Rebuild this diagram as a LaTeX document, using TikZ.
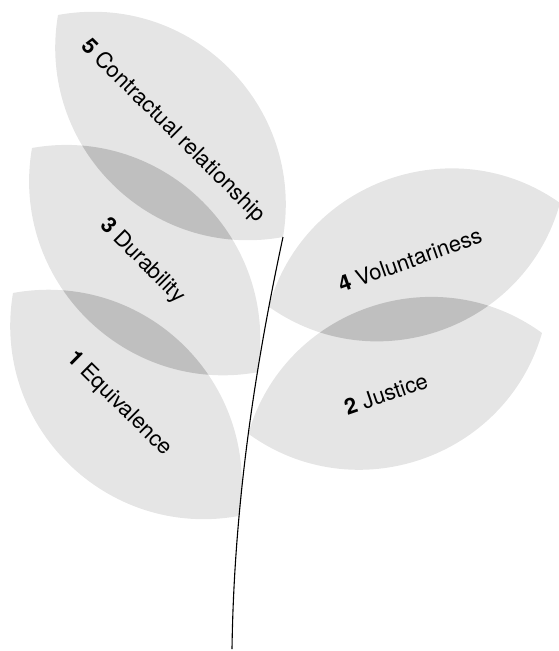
\documentclass[tikz,border=0pt]{standalone}
\usepackage{fontspec}
\setmainfont{TeX Gyre Heros}

\tikzset{
  leaffill/.style={fill=black!10},
  leafoverlap/.style={fill=black!25},
  stemline/.style={black, line width=1.1pt},
  leaftext/.style={font=\fontsize{22}{24}\selectfont, inner sep=0pt},
}
% a leaf is a lens between two tips
\newcommand{\leafshape}[2]{(#1) to[bend left=55, looseness=1.08] (#2) to[bend left=55, looseness=1.08] (#1) -- cycle}

\begin{document}
\begin{tikzpicture}[x=1pt, y=-1pt]
  \useasboundingbox (0,0) rectangle (559,651);
  % Stem points where the leaves sit
  \path (283,237) coordinate (stemtop) .. controls (253.6,374) and (234,509) .. (232,649) coordinate (stembot)
    coordinate[pos=0.17] (l4a) coordinate[pos=0.33] (l3b) coordinate[pos=0.48] (l2a) coordinate[pos=0.68] (l1b);
  % Outer leaf tips
  \coordinate (l5a) at (58,15);
  \coordinate (l3a) at (32,148);
  \coordinate (l1a) at (13,293);
  \coordinate (l4b) at (560,203);
  \coordinate (l2b) at (542,333);
  % Leaves
  \foreach \a/\b in {l5a/stemtop, l3a/l3b, l1a/l1b, l4a/l4b, l2a/l2b}
    \fill[leaffill] \leafshape{\a}{\b};
  % Darker where two leaves overlap
  \foreach \ua/\ub/\va/\vb in {l5a/stemtop/l3a/l3b, l3a/l3b/l1a/l1b, l4a/l4b/l2a/l2b} {
    \begin{scope}
      \clip \leafshape{\ua}{\ub};
      \fill[leafoverlap] \leafshape{\va}{\vb};
    \end{scope}
  }
  % Stem
  \draw[stemline] (stemtop) .. controls (253.6,374) and (234,509) .. (stembot);
  % Labels
  \node[leaftext, rotate=-44.6] (lab5) at (173,131) {\textbf{5} Contractual relationship};
  \node[leaftext, rotate=-45] (lab3) at (142,261) {\textbf{3} Durability};
  \node[leaftext, rotate=-44.7] (lab1) at (119,404) {\textbf{1} Equivalence};
  \node[leaftext, rotate=19.5] (lab4) at (410,260) {\textbf{4} Voluntariness};
  \node[leaftext, rotate=19] (lab2) at (386,394) {\textbf{2} Justice};
\end{tikzpicture}
\end{document}
